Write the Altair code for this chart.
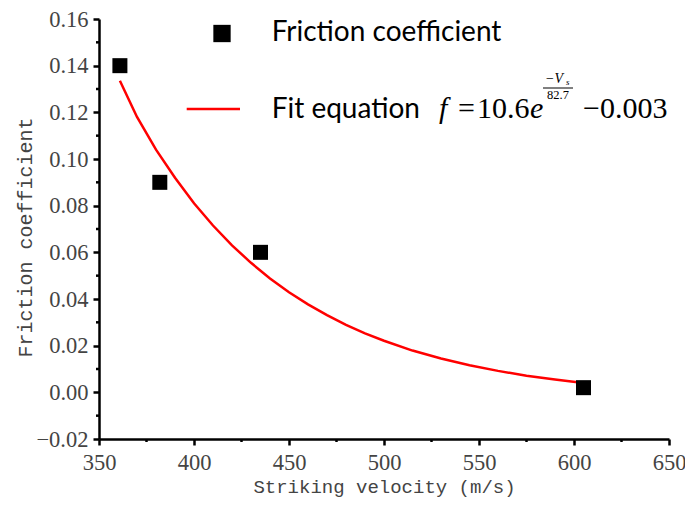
import altair as alt
import pandas as pd

# measured data points
velocity = [361, 382, 435, 605]
friction = [0.140, 0.090, 0.060, 0.002]

# fitted curve
fit_v = [361, 370, 380, 390, 400, 410, 420, 430, 440, 450, 460, 470, 480, 490,
         500, 515, 530, 545, 560, 575, 590, 605]
fit_f = [0.1335, 0.118, 0.104, 0.092, 0.081, 0.0715, 0.063, 0.0555, 0.0488, 0.0429,
         0.0377, 0.0331, 0.0289, 0.0253, 0.0221, 0.0179, 0.0145, 0.0116, 0.0092,
         0.0071, 0.0055, 0.0040]

x_ticks = [350, 400, 450, 500, 550, 600, 650]
y_ticks = [-0.02, 0.00, 0.02, 0.04, 0.06, 0.08, 0.10, 0.12, 0.14, 0.16]
x_minor = [375, 425, 475, 525, 575, 625]
y_minor = [-0.01, 0.01, 0.03, 0.05, 0.07, 0.09, 0.11, 0.13, 0.15]

W, H = 570, 420
TOP = 11
GRAY = "#444444"
SERIF = "Liberation Serif"
MONO = "Liberation Mono"
SANS = "Lato"
DX = 2          # legend offset from plot's left edge
DY = 9 - TOP    # legend offset from plot's top edge

xs = alt.Scale(domain=[350, 650], nice=False, zero=False)
ys = alt.Scale(domain=[-0.02, 0.16], nice=False, zero=False)

pts_df = pd.DataFrame({"v": velocity, "f": friction})
fit_df = pd.DataFrame({"v": fit_v, "f": fit_f})

x_axis = alt.Axis(values=x_ticks, title="Striking velocity (m/s)", grid=False,
                  labelFlush=False, labelPadding=6,
                  titleBaseline="alphabetic", titleY=53)
y_axis = alt.Axis(values=y_ticks, format=".2f", title="Friction coefficient", grid=False,
                  labelPadding=5, titleFontSize=20,
                  titleBaseline="middle", titleX=-74, titleY=218, titleAngle=270)

line = alt.Chart(fit_df).mark_line(color="#ff0000", strokeWidth=2.5, clip=False).encode(
    x=alt.X("v:Q", scale=xs, axis=x_axis),
    y=alt.Y("f:Q", scale=ys, axis=y_axis),
)
points = alt.Chart(pts_df).mark_point(shape="square", filled=True, color="black",
                                      opacity=1, size=225).encode(
    x=alt.X("v:Q", scale=xs, axis=x_axis),
    y=alt.Y("f:Q", scale=ys, axis=y_axis),
)

xm_df = pd.DataFrame({"v": x_minor})
ym_df = pd.DataFrame({"f": y_minor})
x_minor_rules = alt.Chart(xm_df).mark_rule(color="black", strokeWidth=2.5).encode(
    x=alt.X("v:Q", scale=xs, axis=x_axis),
    y=alt.value(H), y2=alt.value(H + 3),
)
y_minor_rules = alt.Chart(ym_df).mark_rule(color="black", strokeWidth=2.5).encode(
    y=alt.Y("f:Q", scale=ys, axis=y_axis),
    x=alt.value(-3), x2=alt.value(0),
)

one = pd.DataFrame({"a": [0]})


def txt(s, x, y, font, size, style="normal", color="black", align="left", baseline="alphabetic"):
    return alt.Chart(one).mark_text(text=s, font=font, fontSize=size, fontStyle=style,
                                    color=color, align=align, baseline=baseline).encode(
        x=alt.value(x + DX), y=alt.value(y + DY))


legend_square = alt.Chart(one).mark_point(shape="square", filled=True, color="black",
                                          opacity=1, size=300).encode(
    x=alt.value(121 + DX), y=alt.value(16.5 + DY))
legend_line = alt.Chart(one).mark_rule(color="#ff0000", strokeWidth=2.5).encode(
    x=alt.value(85.7 + DX), x2=alt.value(139 + DX), y=alt.value(92 + DY))
frac_bar = alt.Chart(one).mark_rule(color="black", strokeWidth=1).encode(
    x=alt.value(442 + DX), x2=alt.value(472 + DX), y=alt.value(71 + DY))

legend = [
    legend_square,
    txt("Friction coefficient", 170.7, 24, SANS, 28),
    legend_line,
    txt("Fit equation", 170.7, 101, SANS, 28),
    txt("f", 338, 100.7, SERIF, 30, style="italic"),
    txt("=", 357, 100.7, SERIF, 30),
    txt("10.6", 376, 100.7, SERIF, 30),
    txt("e", 429, 100.7, SERIF, 30, style="italic"),
    txt("\u2212V", 444, 66, SERIF, 14, style="italic"),
    txt("s", 465, 68, SERIF, 9, style="italic"),
    frac_bar,
    txt("82.7", 446, 82, SERIF, 12.5),
    txt("\u22120.003", 482, 100.7, SERIF, 30),
]

chart = alt.layer(line, points, x_minor_rules, y_minor_rules, *legend).properties(
    width=W, height=H,
    padding={"left": 91, "top": TOP, "right": 16, "bottom": 60},
    autosize=alt.AutoSizeParams(type="none"),
).configure_view(stroke=None).configure_axis(
    domainColor="black", domainWidth=2.5, tickColor="black", tickWidth=2.5, tickSize=6,
    labelFont=SERIF, labelFontSize=22.5, labelColor=GRAY,
    titleFont=MONO, titleFontSize=19, titleColor=GRAY, titleFontWeight="normal",
)

chart.save("out.html", embed_options={"renderer": "svg", "actions": False})
